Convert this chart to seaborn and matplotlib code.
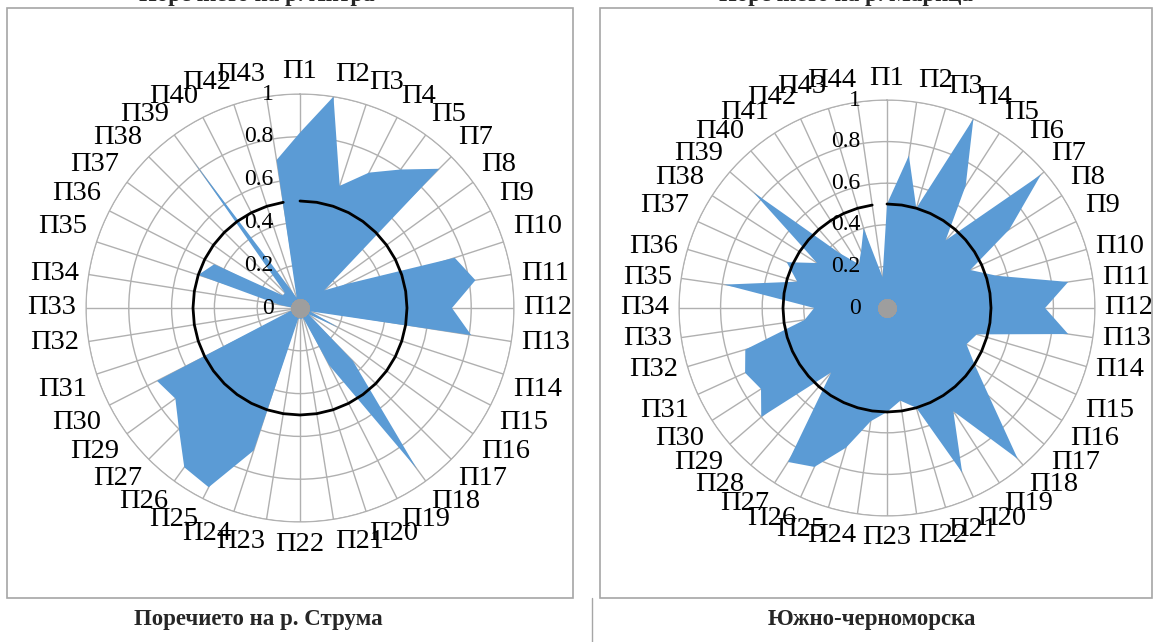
import numpy as np
import matplotlib
matplotlib.use("Agg")
import matplotlib.pyplot as plt
import seaborn as sns
from matplotlib.patches import Rectangle
from matplotlib.lines import Line2D

#data
left_labels = ["П1", "П2", "П3", "П4", "П5", "П7", "П8", "П9", "П10", "П11",
               "П12", "П13", "П14", "П15", "П16", "П17", "П18", "П19", "П20", "П21",
               "П22", "П23", "П24", "П25", "П26", "П27", "П29", "П30", "П31", "П32",
               "П33", "П34", "П35", "П36", "П37", "П38", "П39", "П40", "П42", "П43"]
left_values = [0.82, 1.0, 0.6, 0.71, 0.8, 0.92, 0.14, 0.25, 0.76, 0.83,
               0.71, 0.81, 0.05, 0.2, 0.05, 0.35, 0.93, 0.3, 0.05, 0.05,
               0.05, 0.05, 0.7, 0.94, 0.92, 0.8, 0.72, 0.75, 0.05, 0.03,
               0.03, 0.1, 0.5, 0.45, 0.1, 0.1, 0.85, 0.1, 0.05, 0.7]

right_labels = ["П" + str(i) for i in range(1, 45)]
right_values = [0.5, 0.74, 0.5, 1.0, 0.7, 0.43, 0.98, 0.7, 0.44, 0.55,
                0.88, 0.76, 0.88, 0.45, 0.42, 0.5, 0.65, 0.96, 0.59, 0.87,
                0.5, 0.45, 0.5, 0.55, 0.7, 0.84, 0.88, 0.41, 0.8, 0.72,
                0.75, 0.71, 0.4, 0.35, 0.79, 0.45, 0.53, 0.4, 0.85, 0.35,
                0.25, 0.3, 0.4, 0.15]

r_ticks = [0, 0.2, 0.4, 0.6, 0.8, 1]
r_tick_labels = ["0", "0.2", "0.4", "0.6", "0.8", "1"]
threshold = 0.5

top_titles = ["Поречието на р. Янтра", "Поречието на р. Марица"]
bottom_titles = ["Поречието на р. Струма", "Южно-черноморска"]

sns.set_style("white")
plt.rcParams['font.family'] = ['Liberation Serif', 'DejaVu Serif']

W, H = 1158, 642
fig = plt.figure(figsize=(W / 100, H / 100), dpi=100)

blue = "#5B9BD5"
grid_col = "#B0B0B0"


def radar(cx, cy, R, labels, values):
    ax = fig.add_axes([(cx - R) / W, (H - cy - R) / H, 2 * R / W, 2 * R / H],
                      projection="polar")
    n = len(labels)
    theta = np.arange(n) * 2 * np.pi / n
    ax.set_theta_zero_location("N")
    ax.set_theta_direction(-1)
    ax.set_ylim(0, 1)
    ax.set_xticks(theta)
    ax.set_xticklabels([])
    ax.set_yticks(r_ticks)
    ax.set_yticklabels([])
    ax.grid(True, color=grid_col, linewidth=1)
    ax.spines["polar"].set_color(grid_col)
    ax.set_facecolor("white")

    th_closed = np.append(theta, theta[0])
    v_closed = np.append(values, values[0])
    ax.fill(th_closed, v_closed, color=blue, zorder=3, linewidth=0)

    # 0.5 reference line
    sns.lineplot(x=th_closed, y=[threshold] * len(th_closed), ax=ax, sort=False,
                 color="black", linewidth=2, zorder=4)
    ax.scatter([0] * 12, [0] * 12, s=180, color="#9E9E9E", zorder=5, linewidth=0)

    for t, lab in zip(theta, labels):
        s, c = np.sin(t), np.cos(t)
        ha = "left" if s > 0.08 else ("right" if s < -0.08 else "center")
        va = "bottom" if c > 0.3 else ("top" if c < -0.3 else "center")
        ax.text(t, 1.045, lab, ha=ha, va=va, fontsize=20.5, color="black",
                zorder=6)
    for r, lab in zip(r_ticks, r_tick_labels):
        ax.annotate(lab, xy=(0, r), xytext=(-19, 0), textcoords="offset points",
                    ha="right", va="center", fontsize=17, color="black",
                    zorder=6, annotation_clip=False)
    return ax


radar(300, 308, 214, left_labels, left_values)
radar(887, 308, 208, right_labels, right_values)

# chart frames
for x0, x1 in [(7, 573), (600, 1152)]:
    fig.add_artist(Rectangle((x0 / W, 1 - 598 / H), (x1 - x0) / W, 590 / H,
                             transform=fig.transFigure, fill=False,
                             edgecolor="#A6A6A6", linewidth=1.2))
fig.add_artist(Line2D([592 / W, 592 / W], [0, 1 - 598 / H],
                      transform=fig.transFigure, color="#A6A6A6", linewidth=1))

fig.text(257 / W, 1 - 0.8 / H, top_titles[0], ha="center", va="baseline",
         fontsize=16.5, fontweight="bold")
fig.text(846 / W, 1 - 0.8 / H, top_titles[1], ha="center", va="baseline",
         fontsize=16.5, fontweight="bold")
fig.text(258 / W, 1 - 620 / H, bottom_titles[0], ha="center", va="center",
         fontsize=16.5, fontweight="bold")
fig.text(872 / W, 1 - 620 / H, bottom_titles[1], ha="center", va="center",
         fontsize=16.5, fontweight="bold")

fig.savefig("out.png", dpi=100)
